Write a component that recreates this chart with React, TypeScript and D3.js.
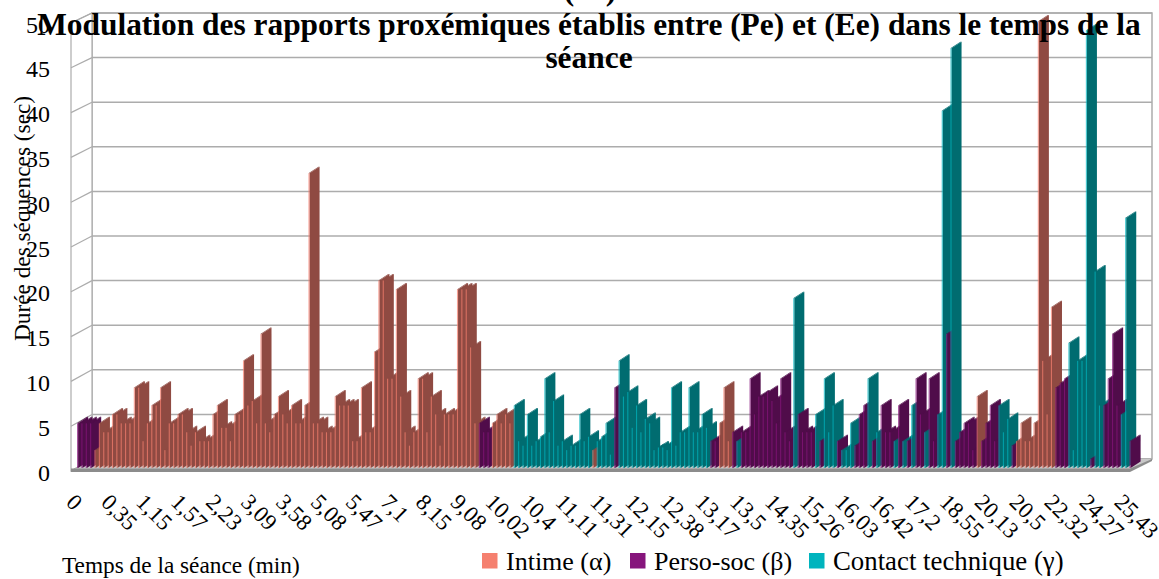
import React from "react";
import * as d3 from "d3";

const width = 1159;
const height = 579;

// The reference shows only the lower ends of a pair of brackets from a line above the title;
// what is between them cannot be read, so it is left blank.
const clippedTitleLine = "(\u2003)";
const titleLines = [
  "Modulation des rapports proxémiques établis entre (Pe) et (Ee) dans le temps de la",
  "séance",
];
const yTicks = [0, 5, 10, 15, 20, 25, 30, 35, 40, 45, 50];
const tickLabels = ["0","0,35","1,15","1,57","2,23","3,09","3,58","5,08","5,47","7,1","8,15","9,08","10,02","10,4","11,11","11,31","12,15","12,38","13,17","13,5","14,35","15,26","16,03","16,42","17,2","18,55","20,13","20,5","22,32","24,27","25,43"];

const seriesNames = ["Intime (α)", "Perso-soc (β)", "Contact technique (γ)"];
const frontColors = ["#F5806F", "#86157C", "#00B4BE"];
const sideColors = ["#8F4A42", "#500C4A", "#006C70"];

// duration of each sequence
const values = [
  5,5,5,5,2,5,4,4,6,6,5,5,5,9,9,3,5,7,7,9,
  2,5,5,6,6,4,2.5,4,3,3,3,6,7,4.5,4.5,3,6,6,12,7,
  7.5,5,15,5,4,6,8,6,5,7,5,5,7,33,5,5,4,4,4,8,
  7,7,7,3,3,9,4,4,13,21,21,10,10,20,8,4,2.5,4,10,10,
  4,8,6,2.5,6,6,6,20,20,20,13.5,5,5,4,4,5,6,5,6,5,
  7,3,2.5,6,2.5,3,3.5,10,4,7.5,2.5,3,2,2.5,2.5,6,3,3.5,2,3,
  3.5,5,1.5,9,12,8,8.5,4.5,7,4,5.5,5,2,2.3,2.3,2,9,2.5,4,4,
  9,4,4,6,4.5,3,3,5,9,3,4,3,4,4,10,6,8,8,8.5,7.5,
  5,10,4,3,19,6,4,4,4,6,3,10,4,7,3,2,2,5,2.5,6,
  7,10,3,4,7,4,4,3,7,3,3,7,10,6,4,10,3,6,40,15,
  47,3,4,5,5,2,8,3,5,7,3,7,4,5.5,2.5,3,5,3,3,5,
  50,12,6,18,9,9.5,10,14,2,12,12,49,1,22,7,7,10,15,7,6,
  28,3,
];
// index into seriesNames for each sequence
const seriesOf = [
  1,1,1,1,0,0,0,0,0,0,0,0,0,0,0,0,0,0,0,0,
  0,0,0,0,0,0,0,0,0,0,0,0,0,0,0,0,0,0,0,0,
  0,0,0,0,0,0,0,0,0,0,0,0,0,0,0,0,0,0,0,0,
  0,0,0,0,0,0,0,0,0,0,0,0,0,0,0,0,0,0,0,0,
  0,0,0,0,0,0,0,0,0,0,0,0,1,1,1,0,0,0,0,0,
  2,2,2,2,2,2,2,2,2,2,2,2,2,2,2,2,2,2,0,2,
  2,2,2,1,2,2,2,2,2,2,2,2,2,2,2,2,2,2,2,2,
  2,2,2,2,2,1,1,0,0,0,1,2,1,1,1,1,1,1,1,1,
  1,1,1,1,2,1,1,1,1,2,1,2,2,2,1,2,2,2,1,1,
  1,2,1,2,1,1,1,2,1,2,1,2,1,1,2,1,1,2,2,1,
  2,1,1,1,1,1,0,1,1,1,1,2,2,2,1,0,0,0,0,0,
  0,0,0,0,1,1,1,2,2,2,2,2,1,2,2,1,1,1,1,2,
  2,1,
];

const x = d3.scaleLinear().domain([0, values.length - 1]).range([77, 1129.5]);
const y = d3.scaleLinear().domain([0, 50]).range([468, 21.5]);
const yFront = d3.scaleLinear().domain([0, 50]).range([471, 23]);
const yBack = d3.scaleLinear().domain([0, 50]).range([459, 13]);

const fw = 1.1;
const dx = 10;
const dy = 6.5;
const wall = { l: 71, b: 92, r: 1152, f: 1130 };
const grid = "#ACACAC";
const font = "'Liberation Serif','Times New Roman',serif";

const line = d3.line();
const poly = (pts: [number, number][]) => line(pts) + "Z";

export default function App() {
  return (
    <svg width={width} height={height} style={{ position: "absolute", left: 0, top: 0, background: "#fff" }} fontFamily={font}>
      {/* walls */}
      <path d={poly([[wall.b, yBack(50)], [wall.r, yBack(50)], [wall.r, yBack(0)], [wall.b, yBack(0)]])} fill="#fff" stroke={grid} strokeWidth={1.5} />
      <path d={poly([[wall.l, yFront(50)], [wall.b, yBack(50)], [wall.b, yBack(0)], [wall.l, yFront(0)]])} fill="#fff" stroke={grid} strokeWidth={1.2} />
      {yTicks.map((t) => (
        <g key={t}>
          <line x1={wall.b} x2={wall.r} y1={yBack(t)} y2={yBack(t)} stroke={grid} strokeWidth={1.5} />
          <line x1={wall.l} x2={wall.b} y1={yFront(t)} y2={yBack(t)} stroke={grid} strokeWidth={1.2} />
          <text x={50} y={yFront(t) + 9.5} textAnchor="end" fontSize={24} fill="#000">{t}</text>
        </g>
      ))}
      {/* floor */}
      <path d={poly([[wall.l, yFront(0)], [wall.b, yBack(0)], [wall.r, yBack(0)], [wall.f, yFront(0)]])} fill="#C8C8C8" />
      {/* bars */}
      {values.map((v, i) => {
        const s = seriesOf[i];
        const x0 = x(i);
        const top = y(v);
        const base = y(0);
        return (
          <g key={i}>
            <path d={poly([[x0 + fw, base], [x0 + fw + dx, base - dy], [x0 + fw + dx, top - dy], [x0 + fw, top]])} fill={sideColors[s]} />
            <path d={poly([[x0, top], [x0 + fw, top], [x0 + fw + dx, top - dy], [x0 + dx, top - dy]])} fill={sideColors[s]} />
            <rect x={x0} y={top} width={fw} height={base - top} fill={frontColors[s]} opacity={0.72} />
          </g>
        );
      })}
      <rect x={wall.l} y={yFront(0) - 2.5} width={wall.f - wall.l} height={3.5} fill="#8C8C8C" />
      <path d={poly([[wall.f, yFront(0) + 1], [wall.f, yFront(0) - 2.5], [wall.r, yBack(0)], [wall.r - 0, yBack(0) + 2]])} fill="#8C8C8C" />
      {/* x tick labels */}
      {tickLabels.map((t, k) => (
        <text key={k} transform={`translate(${x(k * 8) - 12},${503.5}) rotate(45)`} fontSize={22.8} fill="#000">{t}</text>
      ))}
      {/* titles */}
      <text x={590} y={-0.5} textAnchor="middle" fontSize={31.4} fontWeight="bold" fill="#000">{clippedTitleLine}</text>
      {titleLines.map((t, k) => (
        <text key={k} x={589} y={35 + k * 33} textAnchor="middle" fontSize={31.4} fontWeight="bold" fill="#000">{t}</text>
      ))}
      <text transform={`translate(30,218.5) rotate(-90)`} textAnchor="middle" fontSize={23.3} fill="#000">Durée des séquences (sec)</text>
      <text x={62} y={573} fontSize={23.3} fill="#000">Temps de la séance (min)</text>
      {/* legend */}
      {seriesNames.map((n, k) => {
        const lx = [482, 630, 809][k];
        return (
          <g key={n}>
            <rect x={lx} y={553} width={15.5} height={15.5} fill={frontColors[k]} />
            <text x={lx + 24} y={570} fontSize={[26, 26, 26.8][k]} fill="#000">{n}</text>
          </g>
        );
      })}
    </svg>
  );
}
